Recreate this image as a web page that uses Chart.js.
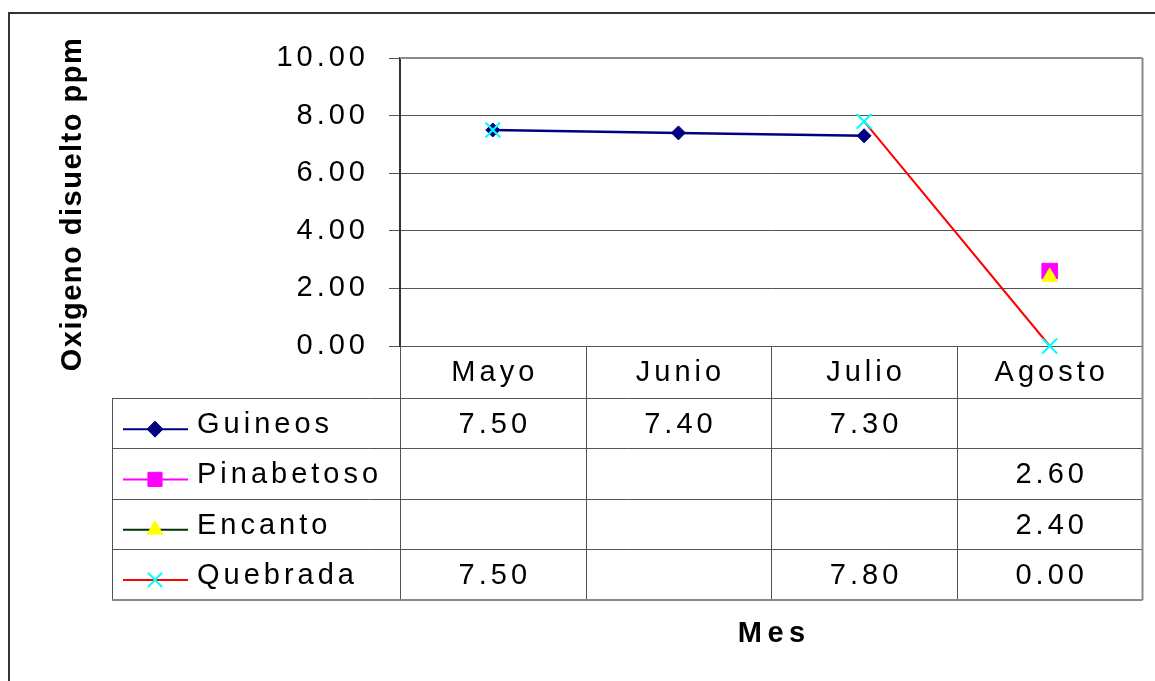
<!DOCTYPE html>
<html>
<head>
<meta charset="utf-8">
<title>Oxigeno disuelto ppm</title>
<script src="https://cdn.jsdelivr.net/npm/chart.js@4/dist/chart.umd.min.js"></script>
<style>
  html, body { margin: 0; padding: 0; background: #fff; }
  canvas { display: block; }
</style>
</head>
<body>
<canvas id="chart" width="1155" height="681"></canvas>
<script>
// Months on the category axis
const months = ['Mayo', 'Junio', 'Julio', 'Agosto'];

// Dissolved oxygen (ppm) per sampling site
const guineos    = [7.50, 7.40, 7.30, null];
const pinabetoso = [null, null, null, 2.60];
const encanto    = [null, null, null, 2.40];
const quebrada   = [7.50, null, 7.80, 0.00];

const seriesNames = ['Guineos', 'Pinabetoso', 'Encanto', 'Quebrada'];

// Value axis range
const yMin = 0, yMax = 10, yStep = 2;

const yTitle = 'Oxigeno disuelto ppm';
const xTitle = 'Mes';

const FONT = "'Liberation Sans', Arial, Helvetica, sans-serif";
const TEXT_SIZE = 29;
const TEXT_SPACING = '4px';

const fmt = v => (v === null || v === undefined) ? '' : v.toFixed(2);

// Series styles: line colour, marker style, marker colours
const styles = [
  { line: '#000080', width: 2.5, point: 'rectRot',  radius: 7,    key: 8,  fill: '#000080', stroke: '#000080', pw: 1 },
  { line: '#FF00FF', width: 2,   point: 'rect',     radius: 11,   key: 10, fill: '#FF00FF', stroke: '#FF00FF', pw: 1 },
  { line: '#003300', width: 2,   point: 'triangle', radius: 9,    key: 9,  fill: '#FFFF00', stroke: '#FFFF00', pw: 1 },
  { line: '#FF0000', width: 2,   point: 'crossRot', radius: 10.5, key: 10, fill: '#00FFFF', stroke: '#00FFFF', pw: 2 }
];
const seriesData = [guineos, pinabetoso, encanto, quebrada];

const datasets = seriesData.map((data, i) => ({
  label: seriesNames[i],
  data: data,
  borderColor: styles[i].line,
  borderWidth: styles[i].width,
  backgroundColor: styles[i].fill,
  pointStyle: styles[i].point,
  pointRadius: styles[i].radius,
  pointHoverRadius: styles[i].radius,
  pointBackgroundColor: styles[i].fill,
  pointBorderColor: styles[i].stroke,
  pointBorderWidth: styles[i].pw,
  tension: 0,
  spanGaps: false,
  clip: false,
  order: seriesData.length - 1 - i
}));

// Draws the outer frame, the data table under the plot and the axis titles
const tablePlugin = {
  id: 'tablePlugin',
  beforeDraw(chart) {
    const ctx = chart.ctx;
    ctx.save();
    ctx.fillStyle = '#fff';
    ctx.fillRect(0, 0, chart.width, chart.height);
    ctx.strokeStyle = '#333';
    ctx.lineWidth = 2;
    ctx.beginPath();
    ctx.moveTo(9, chart.height);
    ctx.lineTo(9, 13);
    ctx.lineTo(chart.width, 13);
    ctx.stroke();
    ctx.restore();
    // wide letter spacing for the tick labels
    ctx.letterSpacing = TEXT_SPACING;
  },
  beforeDatasetsDraw(chart) {
    const ctx = chart.ctx;
    const xs = chart.scales.x;
    const area = chart.chartArea;
    const colW = xs.getPixelForValue(1) - xs.getPixelForValue(0);
    const edges = months.map((m, i) => xs.getPixelForValue(i) - colW / 2);
    edges.push(xs.getPixelForValue(months.length - 1) + colW / 2);
    const top = area.bottom;
    const headH = 52;
    const rowH = 50.25;
    const tableLeft = 112;
    const bottom = top + headH + rowH * seriesNames.length;
    const right = edges[edges.length - 1];

    ctx.save();
    // horizontal rules
    ctx.strokeStyle = '#555';
    ctx.lineWidth = 1;
    for (let k = 0; k < seriesNames.length; k++) {
      const y = Math.round(top + headH + k * rowH) + 0.5;
      ctx.beginPath();
      ctx.moveTo(tableLeft, y);
      ctx.lineTo(right, y);
      ctx.stroke();
    }
    // column rules
    for (let k = 0; k < edges.length - 1; k++) {
      const x = Math.round(edges[k]) + 0.5;
      ctx.beginPath();
      ctx.moveTo(x, top);
      ctx.lineTo(x, bottom);
      ctx.stroke();
    }
    // left edge of the legend column
    ctx.beginPath();
    ctx.moveTo(tableLeft + 0.5, top + headH);
    ctx.lineTo(tableLeft + 0.5, bottom);
    ctx.stroke();
    // outer right and bottom border
    ctx.strokeStyle = '#8a8a8a';
    ctx.lineWidth = 2;
    ctx.beginPath();
    ctx.moveTo(right, area.top);
    ctx.lineTo(right, bottom + 1);
    ctx.moveTo(tableLeft, bottom + 1);
    ctx.lineTo(right, bottom + 1);
    ctx.moveTo(edges[0], area.top);
    ctx.lineTo(right, area.top);
    ctx.stroke();

    // header: months
    ctx.fillStyle = '#000';
    ctx.font = TEXT_SIZE + 'px ' + FONT;
    ctx.letterSpacing = TEXT_SPACING;
    ctx.textAlign = 'center';
    ctx.textBaseline = 'middle';
    months.forEach((m, i) => {
      ctx.fillText(m, xs.getPixelForValue(i) + 2, top + headH / 2 + 1);
    });

    // rows: legend key + values
    seriesNames.forEach((name, r) => {
      const cy = top + headH + r * rowH + rowH / 2;
      const st = styles[r];
      // key line
      ctx.strokeStyle = st.line;
      ctx.lineWidth = 2;
      ctx.beginPath();
      ctx.moveTo(123, cy + 6);
      ctx.lineTo(188, cy + 6);
      ctx.stroke();
      // key marker
      ctx.fillStyle = st.fill;
      ctx.strokeStyle = st.stroke;
      ctx.lineWidth = st.pw;
      if (Chart.helpers && Chart.helpers.drawPoint) {
        Chart.helpers.drawPoint(ctx, {
          pointStyle: st.point, radius: st.key, rotation: 0, borderWidth: st.pw
        }, 155, cy + 6);
      }
      // series name
      ctx.fillStyle = '#000';
      ctx.textAlign = 'left';
      ctx.fillText(name, 197, cy + 2);
      // values
      ctx.textAlign = 'center';
      seriesData[r].forEach((v, i) => {
        const t = fmt(v);
        if (t) ctx.fillText(t, xs.getPixelForValue(i) + 2, cy + 2);
      });
    });
    ctx.restore();
  },
  afterDraw(chart) {
    const ctx = chart.ctx;
    const area = chart.chartArea;
    ctx.save();
    ctx.fillStyle = '#000';
    ctx.textAlign = 'center';
    ctx.textBaseline = 'middle';
    // value axis title
    ctx.font = 'bold 29px ' + FONT;
    ctx.letterSpacing = '1.5px';
    ctx.translate(73, (area.top + area.bottom) / 2 + 2);
    ctx.rotate(-Math.PI / 2);
    ctx.fillText(yTitle, 0, 0);
    ctx.restore();

    // category axis title
    ctx.save();
    ctx.fillStyle = '#000';
    ctx.textAlign = 'center';
    ctx.textBaseline = 'middle';
    ctx.font = 'bold 29px ' + FONT;
    ctx.letterSpacing = '5.5px';
    ctx.fillText(xTitle, (area.left + area.right) / 2 + 3, 634);
    ctx.restore();
  }
};

new Chart(document.getElementById('chart'), {
  type: 'line',
  data: { labels: months, datasets: datasets },
  plugins: [tablePlugin],
  options: {
    responsive: false,
    animation: false,
    events: [],
    layout: { padding: { top: 58, right: 10, left: 0, bottom: 0 } },
    plugins: { legend: { display: false }, tooltip: { enabled: false } },
    scales: {
      x: {
        type: 'category',
        offset: true,
        afterFit(scale) { scale.height = 335; },
        ticks: { display: false },
        grid: { display: false },
        border: { display: false }
      },
      y: {
        min: yMin,
        max: yMax,
        afterFit(scale) { scale.width = 400; },
        ticks: {
          stepSize: yStep,
          callback: v => Number(v).toFixed(2),
          color: '#000',
          font: { family: FONT, size: TEXT_SIZE },
          padding: 20
        },
        grid: { color: '#555', lineWidth: 1, tickLength: 11 },
        border: { color: '#333', width: 2 }
      }
    }
  }
});
</script>
</body>
</html>
